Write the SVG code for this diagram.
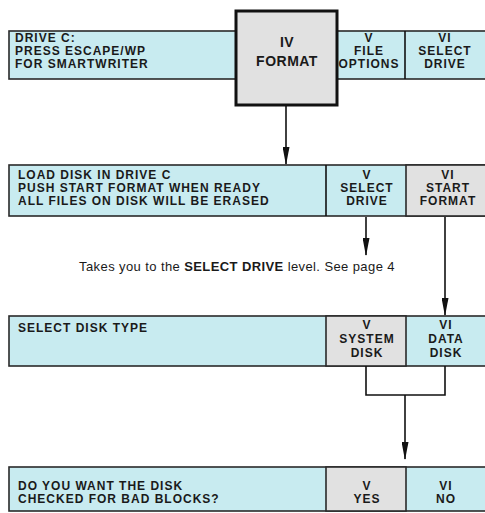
<svg xmlns="http://www.w3.org/2000/svg" width="485" height="513" viewBox="0 0 485 513">
<defs>
<marker id="ahd" markerWidth="18" markerHeight="7" refX="17" refY="3.5" orient="auto" markerUnits="userSpaceOnUse" viewBox="0 0 18 7">
<path d="M0,0 L18,3.5 L0,7 Z" fill="#111"/>
</marker>
</defs>
<style>
.b{fill:#c8ebf0;stroke:#2a2a2a;stroke-width:1.6}
.g{fill:#e1e1e1;stroke:#2a2a2a;stroke-width:1.6}
.t{font-family:"Liberation Sans",Arial,sans-serif;font-weight:bold;font-size:12px;letter-spacing:1px;fill:#1a1a1a}
.c{text-anchor:middle}
.ln{stroke:#111;stroke-width:1.6;fill:none}
.n{font-family:"Liberation Sans",Arial,sans-serif;font-size:13px;letter-spacing:0.4px;fill:#1a1a1a}
</style>
<rect width="485" height="513" fill="#ffffff"/>

<g id="row1">
<rect class="b" x="9" y="31" width="480" height="48"/>
<line class="ln" x1="405" y1="31" x2="405" y2="79"/>
<text class="t" x="15" y="42">DRIVE C:</text>
<text class="t" x="15" y="55">PRESS ESCAPE/WP</text>
<text class="t" x="15" y="68">FOR SMARTWRITER</text>
<text class="t c" x="369" y="42">V</text>
<text class="t c" x="369" y="55">FILE</text>
<text class="t c" x="369" y="68">OPTIONS</text>
<text class="t c" x="445" y="42">VI</text>
<text class="t c" x="445" y="55">SELECT</text>
<text class="t c" x="445" y="68">DRIVE</text>
</g>
<g id="format">
<rect x="236" y="11" width="101" height="94" fill="#e1e1e1" stroke="#111" stroke-width="3"/>
<text class="t c" x="287" y="47" style="font-size:14px;letter-spacing:0.5px">IV</text>
<text class="t c" x="287" y="66" style="font-size:14px;letter-spacing:0.5px">FORMAT</text>
</g>

<g id="row2">
<rect class="b" x="9" y="165" width="480" height="51"/>
<rect class="g" x="406" y="165" width="83" height="51"/>
<line class="ln" x1="326" y1="165" x2="326" y2="216"/>
<text class="t" x="18" y="179">LOAD DISK IN DRIVE C</text>
<text class="t" x="18" y="192">PUSH START FORMAT WHEN READY</text>
<text class="t" x="18" y="205">ALL FILES ON DISK WILL BE ERASED</text>
<text class="t c" x="367" y="179">V</text>
<text class="t c" x="367" y="192">SELECT</text>
<text class="t c" x="367" y="205">DRIVE</text>
<text class="t c" x="448" y="179">VI</text>
<text class="t c" x="448" y="192">START</text>
<text class="t c" x="448" y="205">FORMAT</text>
</g>

<g id="note">
<text class="n c" x="237" y="271">Takes you to the <tspan font-weight="bold">SELECT DRIVE</tspan> level. See page 4</text>
</g>

<g id="row3">
<rect class="b" x="9" y="316" width="480" height="50"/>
<rect class="g" x="326" y="316" width="80" height="50"/>
<text class="t" x="18" y="332">SELECT DISK TYPE</text>
<text class="t c" x="367" y="329">V</text>
<text class="t c" x="367" y="343">SYSTEM</text>
<text class="t c" x="367" y="357">DISK</text>
<text class="t c" x="446" y="329">VI</text>
<text class="t c" x="446" y="343">DATA</text>
<text class="t c" x="446" y="357">DISK</text>
</g>

<g id="row4">
<rect class="b" x="9" y="467" width="480" height="44"/>
<rect class="g" x="326" y="467" width="80" height="44"/>
<text class="t" x="18" y="490">DO YOU WANT THE DISK</text>
<text class="t" x="18" y="503">CHECKED  FOR BAD BLOCKS?</text>
<text class="t c" x="367" y="490">V</text>
<text class="t c" x="367" y="503">YES</text>
<text class="t c" x="446" y="490">VI</text>
<text class="t c" x="446" y="503">NO</text>
</g>

<g id="connectors">
<line class="ln" x1="286" y1="106" x2="286" y2="164" marker-end="url(#ahd)"/>
<line class="ln" x1="366" y1="217" x2="366" y2="255" marker-end="url(#ahd)"/>
<line class="ln" x1="445" y1="217" x2="445" y2="315" marker-end="url(#ahd)"/>
<polyline class="ln" points="366,366 366,395 445,395 445,366"/>
<line class="ln" x1="405" y1="395" x2="405" y2="459" marker-end="url(#ahd)"/>
</g>
</svg>
